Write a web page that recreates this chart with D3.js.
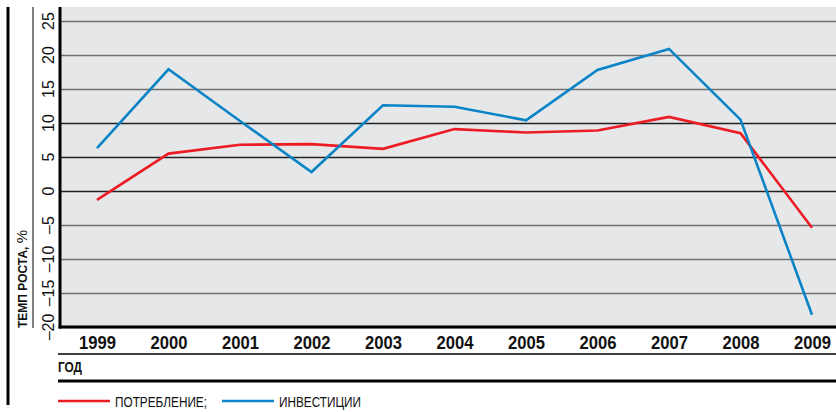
<!DOCTYPE html>
<html>
<head>
<meta charset="utf-8">
<script src="https://cdn.jsdelivr.net/npm/d3@7"></script>
<style>
  body { margin: 0; background: #fff; }
  text { font-family: "Liberation Sans", Arial, sans-serif; }
</style>
</head>
<body>
<svg width="836" height="412"></svg>
<script>
var years = [1999, 2000, 2001, 2002, 2003, 2004, 2005, 2006, 2007, 2008, 2009];
var consumption = [-1.3, 5.5, 6.8, 6.9, 6.2, 9.1, 8.6, 8.9, 10.9, 8.5, -5.4];
var investment = [6.3, 17.9, 10.3, 2.8, 12.6, 12.4, 10.4, 17.8, 20.9, 10.5, -18.2];
var yTicks = [-20, -15, -10, -5, 0, 5, 10, 15, 20, 25];
var seriesNames = ["ПОТРЕБЛЕНИЕ;", "ИНВЕСТИЦИИ"];
var colors = ["#ed1c24", "#0a84c6"];

var svg = d3.select("svg");

var plot = {left: 60, right: 836, top: 7, bottom: 327};

var x = d3.scalePoint().domain(years).range([97, 812]);
var y = d3.scaleLinear().domain([-20, 25]).range([327, 21]);

// grey plot background
svg.append("rect")
    .attr("x", plot.left)
    .attr("y", plot.top)
    .attr("width", plot.right - plot.left)
    .attr("height", plot.bottom - plot.top)
    .attr("fill", "#e6e7e8");

// outer frame lines on the left
svg.append("line")
    .attr("x1", 8).attr("x2", 8).attr("y1", 7).attr("y2", 405)
    .attr("stroke", "#000").attr("stroke-width", 3);
svg.append("line")
    .attr("x1", 33).attr("x2", 33).attr("y1", 7).attr("y2", 328)
    .attr("stroke", "#000").attr("stroke-width", 1);

// gridlines
svg.append("g")
    .attr("transform", "translate(" + plot.left + ",0)")
    .call(d3.axisLeft(y).tickValues(yTicks).tickSize(-(plot.right - plot.left)).tickFormat(""))
    .call(function(g) {
      g.select(".domain").remove();
      g.selectAll(".tick line")
        .attr("stroke", function(d) { return (d >= 0 && d <= 10) ? "#222" : "#707070"; })
        .attr("stroke-width", 1.5);
    });

// y tick labels (rotated)
svg.append("g")
    .selectAll("text")
    .data(yTicks)
    .enter().append("text")
      .attr("transform", function(d) { return "translate(54," + y(d) + ") rotate(-90)"; })
      .attr("text-anchor", "middle")
      .attr("font-size", "16px")
      .attr("fill", "#111")
      .text(function(d) { return d < 0 ? "–" + Math.abs(d) : d; });

// y title
var yt = svg.append("text")
    .attr("transform", "translate(27,328) rotate(-90)")
    .attr("text-anchor", "start")
    .attr("fill", "#111");
yt.append("tspan").attr("font-size", "12px").attr("font-weight", "bold").text("ТЕМП РОСТА, ");
yt.append("tspan").attr("font-size", "15px").text("%");

// axis lines
svg.append("line")
    .attr("x1", plot.left).attr("x2", plot.left).attr("y1", plot.top).attr("y2", plot.bottom + 1.5)
    .attr("stroke", "#000").attr("stroke-width", 3);
svg.append("line")
    .attr("x1", plot.left - 1.5).attr("x2", plot.right).attr("y1", plot.bottom).attr("y2", plot.bottom)
    .attr("stroke", "#000").attr("stroke-width", 3);

// x labels
svg.append("g")
    .attr("transform", "translate(0," + plot.bottom + ")")
    .call(d3.axisBottom(x).tickSize(0).tickPadding(0))
    .call(function(g) {
      g.select(".domain").remove();
      g.selectAll(".tick text")
        .attr("dy", null)
        .attr("y", 22)
        .attr("x", -18.5)
        .attr("text-anchor", "start")
        .attr("textLength", 37)
        .attr("lengthAdjust", "spacingAndGlyphs")
        .attr("font-size", "19px")
        .attr("font-weight", "bold")
        .attr("fill", "#111");
    });
svg.selectAll(".tick text").attr("font-family", null);

// rules under the x labels
svg.append("line")
    .attr("x1", 58).attr("x2", 836).attr("y1", 354).attr("y2", 354)
    .attr("stroke", "#000").attr("stroke-width", 1.5);
svg.append("text")
    .attr("x", 58).attr("y", 372)
    .attr("font-size", "14px").attr("font-weight", "bold").attr("fill", "#111")
    .attr("textLength", 24).attr("lengthAdjust", "spacingAndGlyphs")
    .text("ГОД");
svg.append("line")
    .attr("x1", 58).attr("x2", 836).attr("y1", 381).attr("y2", 381)
    .attr("stroke", "#000").attr("stroke-width", 3);

// lines
var line = d3.line()
    .x(function(d, i) { return x(years[i]); })
    .y(function(d) { return y(d); });

[consumption, investment].forEach(function(s, i) {
  svg.append("path")
      .attr("d", line(s))
      .attr("fill", "none")
      .attr("stroke", colors[i])
      .attr("stroke-width", 2.6)
      .attr("stroke-linejoin", "miter");
});

// legend
var legendX = [58, 222];
var legendW = [92, 82];
seriesNames.forEach(function(name, i) {
  svg.append("line")
      .attr("x1", legendX[i]).attr("x2", legendX[i] + 52)
      .attr("y1", 401).attr("y2", 401)
      .attr("stroke", colors[i]).attr("stroke-width", 2.6);
  svg.append("text")
      .attr("x", legendX[i] + 57).attr("y", 407)
      .attr("font-size", "14px").attr("fill", "#111")
      .attr("textLength", legendW[i]).attr("lengthAdjust", "spacingAndGlyphs")
      .text(name);
});
</script>
</body>
</html>
